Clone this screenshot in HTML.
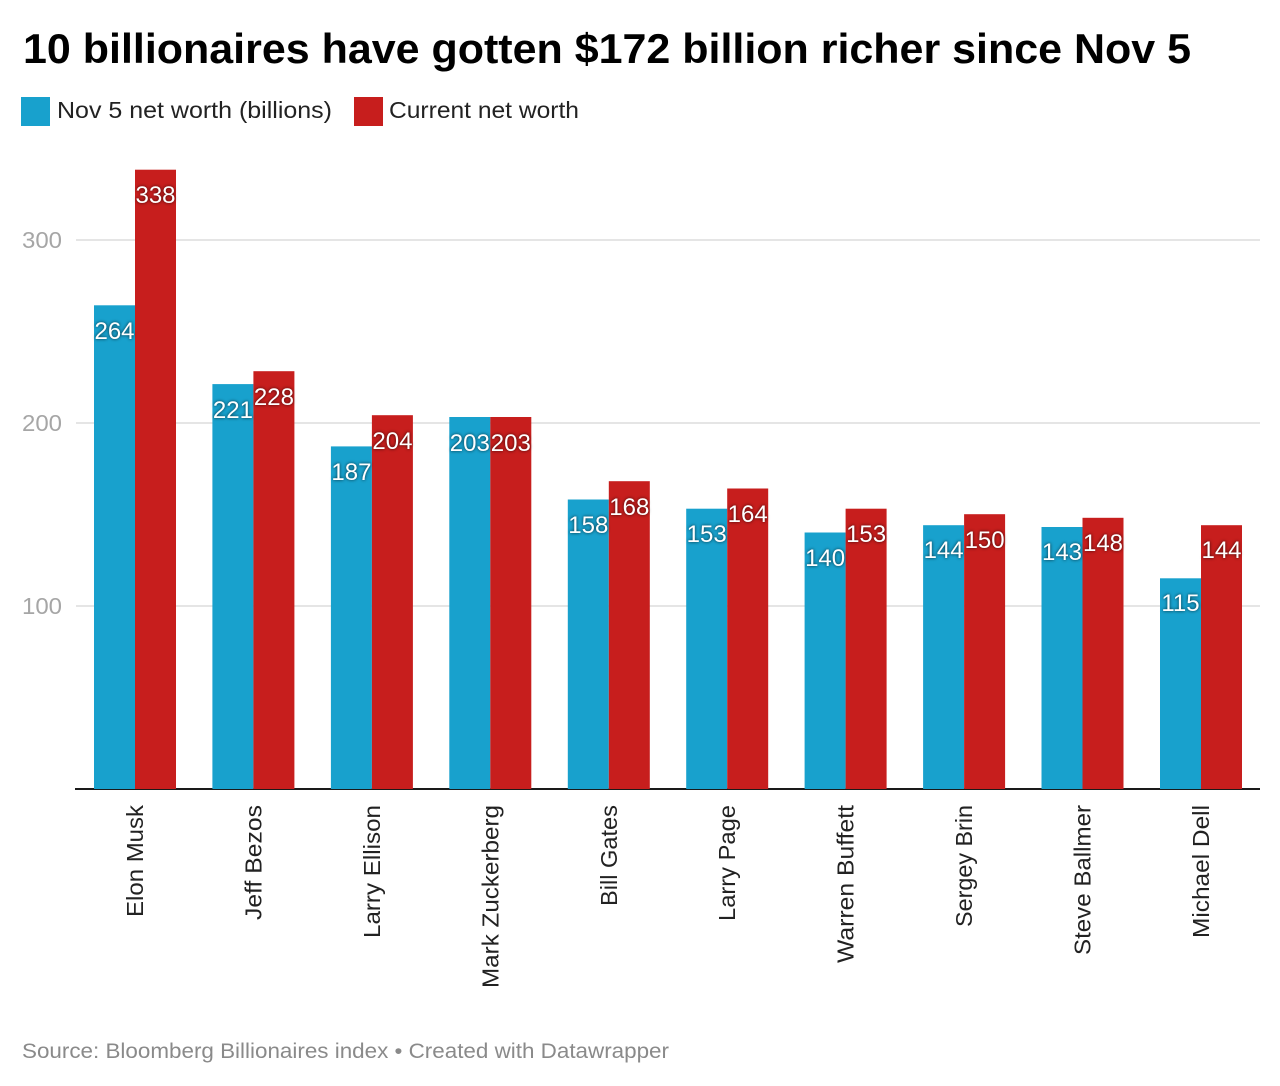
<!DOCTYPE html>
<html>
<head>
<meta charset="utf-8">
<style>
  html, body { margin:0; padding:0; background:#fff; }
  svg { display:block; }
  .val { font-family:"Liberation Sans", sans-serif; font-size:24px; fill:#fff; text-anchor:middle; filter: drop-shadow(0 0 1.5px rgba(0,0,0,0.75)); }
  .cat { font-family:"Liberation Sans", sans-serif; font-size:23px; fill:#222; text-anchor:end; }
  .ytick { font-family:"Liberation Sans", sans-serif; font-size:23px; fill:#a6a6a6; }
</style>
</head>
<body>
<svg width="1280" height="1086" viewBox="0 0 1280 1086" xmlns="http://www.w3.org/2000/svg">
  <rect width="1280" height="1086" fill="#fff"/>
  <!-- Title -->
  <text x="23" y="63" font-family="Liberation Sans, sans-serif" font-weight="bold" font-size="42" fill="#000" textLength="1168" lengthAdjust="spacingAndGlyphs">10 billionaires have gotten $172 billion richer since Nov 5</text>
  <!-- Legend -->
  <rect x="21" y="97" width="29" height="29" fill="#18a1cd"/>
  <text x="57" y="118" font-family="Liberation Sans, sans-serif" font-size="23" fill="#222" textLength="275" lengthAdjust="spacingAndGlyphs">Nov 5 net worth (billions)</text>
  <rect x="354" y="97" width="29" height="29" fill="#c71e1d"/>
  <text x="389" y="118" font-family="Liberation Sans, sans-serif" font-size="23" fill="#222" textLength="190" lengthAdjust="spacingAndGlyphs">Current net worth</text>

  <!-- Grid -->
  <g stroke="#e5e5e5" stroke-width="2">
    <line x1="76" y1="240" x2="1260" y2="240"/>
    <line x1="76" y1="423" x2="1260" y2="423"/>
    <line x1="76" y1="606" x2="1260" y2="606"/>
  </g>
  <text class="ytick" x="22" y="248" textLength="40" lengthAdjust="spacingAndGlyphs">300</text>
  <text class="ytick" x="22" y="431" textLength="40" lengthAdjust="spacingAndGlyphs">200</text>
  <text class="ytick" x="22" y="614" textLength="40" lengthAdjust="spacingAndGlyphs">100</text>

  <!-- Bars -->
  <g id="bars"></g>

  <!-- Baseline -->
  <line x1="75" y1="789" x2="1260" y2="789" stroke="#1a1a1a" stroke-width="2"/>

  <!-- Elon Musk -->
  <rect x="94" y="305.3" width="41" height="483.7" fill="#18a1cd"/>
  <rect x="135" y="169.7" width="41" height="619.3" fill="#c71e1d"/>
  <text class="val" x="114.5" y="339">264</text>
  <text class="val" x="155.5" y="203">338</text>
  <text class="cat" transform="translate(143,805) rotate(-90)" textLength="112" lengthAdjust="spacingAndGlyphs">Elon Musk</text>

  <!-- Jeff Bezos -->
  <rect x="212.4" y="384.1" width="41" height="404.9" fill="#18a1cd"/>
  <rect x="253.4" y="371.2" width="41" height="417.8" fill="#c71e1d"/>
  <text class="val" x="232.9" y="418">221</text>
  <text class="val" x="273.9" y="405">228</text>
  <text class="cat" transform="translate(261.4,805) rotate(-90)" textLength="115" lengthAdjust="spacingAndGlyphs">Jeff Bezos</text>

  <!-- Larry Ellison -->
  <rect x="330.9" y="446.4" width="41" height="342.6" fill="#18a1cd"/>
  <rect x="371.9" y="415.2" width="41" height="373.8" fill="#c71e1d"/>
  <text class="val" x="351.4" y="480">187</text>
  <text class="val" x="392.4" y="449">204</text>
  <text class="cat" transform="translate(379.9,805) rotate(-90)" textLength="133" lengthAdjust="spacingAndGlyphs">Larry Ellison</text>

  <!-- Mark Zuckerberg -->
  <rect x="449.3" y="417.0" width="41" height="372.0" fill="#18a1cd"/>
  <rect x="490.3" y="417.0" width="41" height="372.0" fill="#c71e1d"/>
  <text class="val" x="469.8" y="451">203</text>
  <text class="val" x="510.8" y="451">203</text>
  <text class="cat" transform="translate(498.3,805) rotate(-90)" textLength="183" lengthAdjust="spacingAndGlyphs">Mark Zuckerberg</text>

  <!-- Bill Gates -->
  <rect x="567.8" y="499.5" width="41" height="289.5" fill="#18a1cd"/>
  <rect x="608.8" y="481.2" width="41" height="307.8" fill="#c71e1d"/>
  <text class="val" x="588.3" y="533">158</text>
  <text class="val" x="629.3" y="515">168</text>
  <text class="cat" transform="translate(616.8,805) rotate(-90)" textLength="101" lengthAdjust="spacingAndGlyphs">Bill Gates</text>

  <!-- Larry Page -->
  <rect x="686.2" y="508.7" width="41" height="280.3" fill="#18a1cd"/>
  <rect x="727.2" y="488.5" width="41" height="300.5" fill="#c71e1d"/>
  <text class="val" x="706.7" y="542">153</text>
  <text class="val" x="747.7" y="522">164</text>
  <text class="cat" transform="translate(735.2,805) rotate(-90)" textLength="116" lengthAdjust="spacingAndGlyphs">Larry Page</text>

  <!-- Warren Buffett -->
  <rect x="804.6" y="532.5" width="41" height="256.5" fill="#18a1cd"/>
  <rect x="845.6" y="508.7" width="41" height="280.3" fill="#c71e1d"/>
  <text class="val" x="825.1" y="566">140</text>
  <text class="val" x="866.1" y="542">153</text>
  <text class="cat" transform="translate(853.6,805) rotate(-90)" textLength="158" lengthAdjust="spacingAndGlyphs">Warren Buffett</text>

  <!-- Sergey Brin -->
  <rect x="923.1" y="525.2" width="41" height="263.8" fill="#18a1cd"/>
  <rect x="964.1" y="514.2" width="41" height="274.8" fill="#c71e1d"/>
  <text class="val" x="943.6" y="558">144</text>
  <text class="val" x="984.6" y="548">150</text>
  <text class="cat" transform="translate(972.1,805) rotate(-90)" textLength="122" lengthAdjust="spacingAndGlyphs">Sergey Brin</text>

  <!-- Steve Ballmer -->
  <rect x="1041.5" y="527.0" width="41" height="262.0" fill="#18a1cd"/>
  <rect x="1082.5" y="517.8" width="41" height="271.2" fill="#c71e1d"/>
  <text class="val" x="1062" y="560">143</text>
  <text class="val" x="1103" y="551">148</text>
  <text class="cat" transform="translate(1090.5,805) rotate(-90)" textLength="150" lengthAdjust="spacingAndGlyphs">Steve Ballmer</text>

  <!-- Michael Dell -->
  <rect x="1160" y="578.3" width="41" height="210.7" fill="#18a1cd"/>
  <rect x="1201" y="525.2" width="41" height="263.8" fill="#c71e1d"/>
  <text class="val" x="1180.5" y="611">115</text>
  <text class="val" x="1221.5" y="558">144</text>
  <text class="cat" transform="translate(1209,805) rotate(-90)" textLength="133" lengthAdjust="spacingAndGlyphs">Michael Dell</text>

  <!-- Footer -->
  <text x="22" y="1058" font-family="Liberation Sans, sans-serif" font-size="21" fill="#8a8a8a" textLength="647" lengthAdjust="spacingAndGlyphs">Source: Bloomberg Billionaires index • Created with Datawrapper</text>
</svg>
</body>
</html>
